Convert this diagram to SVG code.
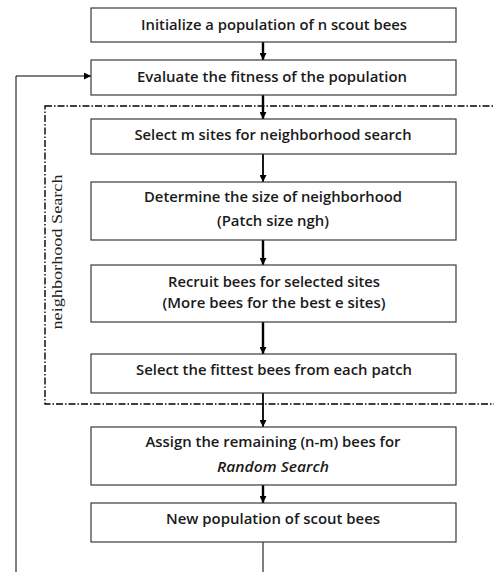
<svg xmlns="http://www.w3.org/2000/svg" width="494" height="572" viewBox="0 0 494 572">
<style>
.box{fill:#fff;stroke:#3a3a3a;stroke-width:1.2}
.t{font-family:"Open Sans","Liberation Sans",sans-serif;font-weight:600;font-size:13.5px;fill:#1a1a1a;text-anchor:middle}
.it{font-style:italic}
.c{stroke:#000;fill:none}
.thick{stroke-width:2.4}
.mid{stroke-width:1.8}
.thin{stroke-width:1}
.dash{fill:none;stroke:#000;stroke-width:1.4;stroke-dasharray:7 2 1.5 2}
.lbl{font-family:"Liberation Serif","DejaVu Serif",serif;font-size:14px;fill:#222;text-anchor:middle}
</style>
<defs>
<marker id="ah2" viewBox="0 0 10 10" refX="10" refY="5" markerWidth="9" markerHeight="7" orient="auto" markerUnits="userSpaceOnUse">
<path d="M0,0 L10,5 L0,10 z" fill="#000"/>
</marker>
</defs>
<rect class="dash" x="45" y="106" width="460" height="298"/>
<text class="lbl" transform="translate(62,252) rotate(-90)" textLength="155" lengthAdjust="spacingAndGlyphs">neighborhood Search</text>
<g id="connectors">
<line class="c thick" x1="263" y1="42" x2="263" y2="60" marker-end="url(#ah2)"/>
<line class="c thick" x1="263" y1="95" x2="263" y2="119" marker-end="url(#ah2)"/>
<line class="c mid" x1="263" y1="154" x2="263" y2="182" marker-end="url(#ah2)"/>
<line class="c thick" x1="263" y1="240" x2="263" y2="265" marker-end="url(#ah2)"/>
<line class="c thick" x1="263" y1="322" x2="263" y2="354" marker-end="url(#ah2)"/>
<line class="c mid" x1="263" y1="393" x2="263" y2="427" marker-end="url(#ah2)"/>
<line class="c thick" x1="263" y1="485" x2="263" y2="503" marker-end="url(#ah2)"/>
<line class="c thin" x1="263" y1="542" x2="263" y2="572"/>
<polyline class="c thin" points="16,572 16,76 91,76" marker-end="url(#ah2)"/>
</g>
<g id="n1"><rect class="box" x="91" y="8" width="365" height="34"/><text class="t" x="274" y="30" textLength="266" lengthAdjust="spacingAndGlyphs">Initialize a population of n scout bees</text></g>
<g id="n2"><rect class="box" x="91" y="60" width="365" height="35"/><text class="t" x="272" y="82" textLength="270" lengthAdjust="spacingAndGlyphs">Evaluate the fitness of the population</text></g>
<g id="n3"><rect class="box" x="91" y="119" width="365" height="35"/><text class="t" x="273" y="140" textLength="277" lengthAdjust="spacingAndGlyphs">Select m sites for neighborhood search</text></g>
<g id="n4"><rect class="box" x="91" y="182" width="365" height="58"/><text class="t" x="273" y="202" textLength="258" lengthAdjust="spacingAndGlyphs">Determine the size of neighborhood</text><text class="t" x="273" y="226" textLength="112" lengthAdjust="spacingAndGlyphs">(Patch size ngh)</text></g>
<g id="n5"><rect class="box" x="91" y="265" width="365" height="57"/><text class="t" x="274" y="287" textLength="212" lengthAdjust="spacingAndGlyphs">Recruit bees for selected sites</text><text class="t" x="274" y="308" textLength="223" lengthAdjust="spacingAndGlyphs">(More bees for the best e sites)</text></g>
<g id="n6"><rect class="box" x="91" y="354" width="365" height="39"/><text class="t" x="274" y="375" textLength="276" lengthAdjust="spacingAndGlyphs">Select the fittest bees from each patch</text></g>
<g id="n7"><rect class="box" x="91" y="427" width="365" height="58"/><text class="t" x="273" y="447" textLength="255" lengthAdjust="spacingAndGlyphs">Assign the remaining (n-m) bees for</text><text class="t it" x="273" y="472" textLength="112" lengthAdjust="spacingAndGlyphs">Random Search</text></g>
<g id="n8"><rect class="box" x="91" y="503" width="365" height="39"/><text class="t" x="273" y="524" textLength="214" lengthAdjust="spacingAndGlyphs">New population of scout bees</text></g>
</svg>
